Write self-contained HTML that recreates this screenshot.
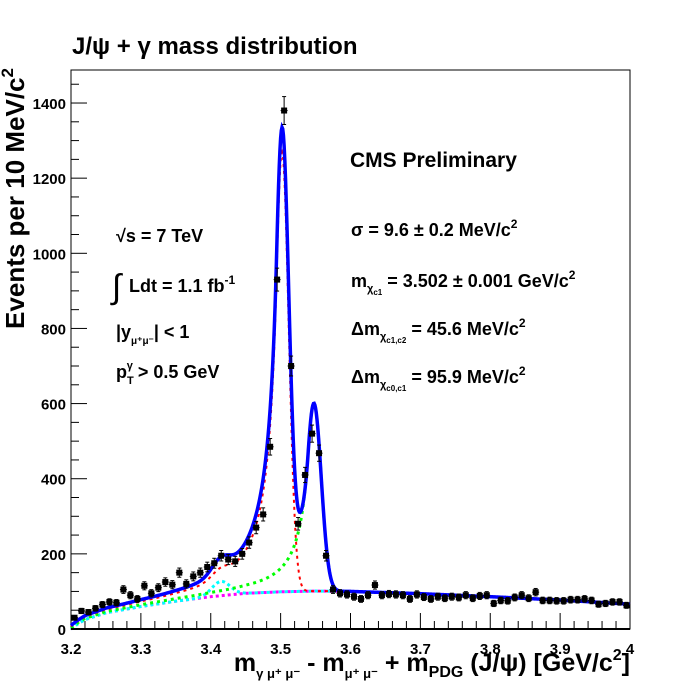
<!DOCTYPE html>
<html><head><meta charset="utf-8"><style>
html,body{margin:0;padding:0;background:#fff;}
svg{display:block;font-family:"Liberation Sans",Arial,sans-serif;font-weight:bold;}
</style></head><body>
<svg id="chart" width="700" height="700" viewBox="0 0 700 700">
<rect x="0" y="0" width="700" height="700" fill="#fff"/>
<text x="72" y="54" font-size="24">J/ψ + γ mass distribution</text>
<rect x="71" y="70" width="559" height="559" fill="none" stroke="#000" stroke-width="1"/>
<g id="ticks"></g>
<g id="curves"></g>
<g id="points"></g>
<line x1="71" y1="629" x2="630" y2="629" stroke="#000" stroke-width="2"/>
<text transform="translate(24,68) rotate(-90)" text-anchor="end" font-size="26">Events per 10 MeV/c<tspan dy="-11" font-size="17">2</tspan></text>
<text x="630" y="671" text-anchor="end" font-size="25">m<tspan dy="7" font-size="13">γ μ⁺ μ⁻</tspan><tspan dy="-7"> - m</tspan><tspan dy="7" font-size="13">μ⁺ μ⁻</tspan><tspan dy="-7"> + m</tspan><tspan dy="6" font-size="16">PDG</tspan><tspan dy="-6"> (J/ψ) [GeV/c</tspan><tspan dy="-11" font-size="16">2</tspan><tspan dy="11">]</tspan></text>
<text x="350" y="167" font-size="21">CMS Preliminary</text>
<g font-size="18">
<text x="351" y="236">σ = 9.6 ± 0.2 MeV/c<tspan dy="-8" font-size="12">2</tspan></text>
<text x="351" y="287">m<tspan dy="5" font-size="11">χ</tspan><tspan dy="3" font-size="8">c1</tspan><tspan dy="-8"> = 3.502 ± 0.001 GeV/c</tspan><tspan dy="-8" font-size="12">2</tspan></text>
<text x="351" y="335">Δm<tspan dy="5" font-size="11">χ</tspan><tspan dy="3" font-size="8">c1,c2</tspan><tspan dy="-8"> = 45.6 MeV/c</tspan><tspan dy="-8" font-size="12">2</tspan></text>
<text x="351" y="383">Δm<tspan dy="5" font-size="11">χ</tspan><tspan dy="3" font-size="8">c0,c1</tspan><tspan dy="-8"> = 95.9 MeV/c</tspan><tspan dy="-8" font-size="12">2</tspan></text>
</g>
<g font-size="18">
<text x="116" y="242">√s = 7 TeV</text>
<text x="112" y="298" font-size="34" font-weight="normal">∫</text>
<text x="129" y="292">Ldt = 1.1 fb<tspan dy="-8" font-size="12">-1</tspan></text>
<text x="116" y="338">|y<tspan dy="6" font-size="10">μ⁺μ⁻</tspan><tspan dy="-6">| &lt; 1</tspan></text>
<text x="116" y="378">p<tspan dy="6" font-size="11">T</tspan><tspan dx="-7" dy="-15" font-size="11">γ</tspan><tspan dy="9"> &gt; 0.5 GeV</tspan></text>
</g>
</svg>
<script>
// ---- data ----
const binCenters = [3.205,3.215,3.225,3.235,3.245,3.255,3.265,3.275,3.285,3.295,3.305,3.315,3.325,3.335,3.345,3.355,3.365,3.375,3.385,3.395,3.405,3.415,3.425,3.435,3.445,3.455,3.465,3.475,3.485,3.495,3.505,3.515,3.525,3.535,3.545,3.555,3.565,3.575,3.585,3.595,3.605,3.615,3.625,3.635,3.645,3.655,3.665,3.675,3.685,3.695,3.705,3.715,3.725,3.735,3.745,3.755,3.765,3.775,3.785,3.795,3.805,3.815,3.825,3.835,3.845,3.855,3.865,3.875,3.885,3.895,3.905,3.915,3.925,3.935,3.945,3.955,3.965,3.975,3.985,3.995];
const counts = [30,48,45,55,65,72,70,105,90,80,115,95,110,125,118,150,120,140,150,165,175,195,185,180,200,230,270,305,485,930,1380,700,280,410,520,468,195,105,95,92,86,80,90,117,90,93,92,90,80,92,85,80,86,82,86,84,90,82,88,90,68,76,75,84,90,82,98,76,76,75,75,78,78,80,76,66,68,72,72,63];
const xTicks = [3.2,3.3,3.4,3.5,3.6,3.7,3.8,3.9,4.0];
const xTickLabels = ["3.2","3.3","3.4","3.5","3.6","3.7","3.8","3.9","4"];
const yTicks = [0,200,400,600,800,1000,1200,1400];
const yTickLabels = ["0","200","400","600","800","1000","1200","1400"];
// background shape sampled from the fit (events per bin)
const bgX = [3.2,3.21,3.22,3.25,3.3,3.35,3.4,3.45,3.5,3.55,3.6,3.7,3.8,3.9,4.0];
const bgY = [0,14,25,43,60,74,86,95,99,101,100,94,86,77,66];
// signal parameters: mean, sigma, amplitude
const c0Params = [3.4147,0.013,38];
const c1Params = [3.502,0.0096,1170];
const c2Params = [3.5476,0.0105,500];
const cbAlpha = 0.8, cbN = 1.8;

// ---- axes ----
const X0=71, X1=630, Y0=629, YPER=0.3757;
const xs = v => X0 + (v-3.2)/0.8*(X1-X0);
const ys = v => Y0 - v*YPER;
const NS="http://www.w3.org/2000/svg";
function mk(tag, attrs, parent){const e=document.createElementNS(NS,tag);for(const k in attrs)e.setAttribute(k,attrs[k]);parent.appendChild(e);return e;}
const tg=document.getElementById('ticks');
for(let i=0;i<=40;i++){const v=3.2+i*0.02;const major=i%5===0;
  const t=mk('line',{x1:xs(v),x2:xs(v),y1:Y0,y2:Y0-(major?16:8),stroke:'#000','stroke-width':1},tg);
  
  }
xTicks.forEach((v,i)=>{const t=mk('text',{x:xs(v),y:654,'text-anchor':'middle','font-size':15},tg);t.textContent=xTickLabels[i];
  
  });
for(let v=0;v<=1450;v+=50){const major=v%200===0;
  const t=mk('line',{x1:X0,x2:X0+(major?16:8),y1:ys(v),y2:ys(v),stroke:'#000','stroke-width':1},tg);
  
  }
yTicks.forEach((v,i)=>{const t=mk('text',{x:66,y:ys(v)+6,'text-anchor':'end','font-size':15},tg);t.textContent=yTickLabels[i];
  
  });

// ---- model ----
function bg(x){for(let i=0;i<bgX.length-1;i++){if(x<=bgX[i+1]){const f=(x-bgX[i])/(bgX[i+1]-bgX[i]);return bgY[i]+f*(bgY[i+1]-bgY[i]);}}return bgY[bgY.length-1];}
function cb(x,p){const t=(x-p[0])/p[1];if(t>-cbAlpha)return p[2]*Math.exp(-t*t/2);
  const A=Math.pow(cbN/cbAlpha,cbN)*Math.exp(-cbAlpha*cbAlpha/2),B=cbN/cbAlpha-cbAlpha;return p[2]*A*Math.pow(B-t,-cbN);}
function gaus(x,p){const t=(x-p[0])/p[1];return p[2]*Math.exp(-t*t/2);}
const cg=document.getElementById('curves');
function curve(fn,color,width,dash,name){let d='';for(let x=3.2;x<=4.0001;x+=0.001){const y=Math.max(0,fn(x));d+=(d?'L':'M')+xs(x).toFixed(2)+','+ys(y).toFixed(2);}
  const p=mk('path',{d:d,fill:'none',stroke:color,'stroke-width':width},cg);if(dash)p.setAttribute('stroke-dasharray',dash);
  
  }
curve(x=>bg(x),'#ff00ff',3,'3,3','background-curve');
curve(x=>bg(x)+gaus(x,c0Params),'#00ffff',3,'3,3','chic0-curve');
curve(x=>bg(x)+cb(x,c2Params),'#00ff00',3,'3,4','chic2-curve');
curve(x=>bg(x)+cb(x,c1Params)+gaus(x,c0Params)*0.6,'#ff0000',2,'3,4','chic1-curve');
curve(x=>bg(x)+gaus(x,c0Params)+cb(x,c1Params)+cb(x,c2Params),'#0000ff',3.5,null,'total-fit-curve');

// ---- points ----
const pg=document.getElementById('points');
binCenters.forEach((c,i)=>{const n=counts[i],e=Math.sqrt(n);const g=mk('g',{},pg);
  
  
  mk('line',{x1:xs(c),x2:xs(c),y1:ys(n+e),y2:ys(n-e),stroke:'#000','stroke-width':1},g);
  mk('line',{x1:xs(c-0.005),x2:xs(c+0.005),y1:ys(n),y2:ys(n),stroke:'#000','stroke-width':1},g);
  mk('line',{x1:xs(c)-2,x2:xs(c)+2,y1:ys(n+e),y2:ys(n+e),stroke:'#000','stroke-width':1},g);
  mk('line',{x1:xs(c)-2,x2:xs(c)+2,y1:ys(n-e),y2:ys(n-e),stroke:'#000','stroke-width':1},g);
  mk('rect',{x:xs(c)-3,y:ys(n)-3,width:6,height:6,fill:'#000'},g);});
</script>
</body></html>
